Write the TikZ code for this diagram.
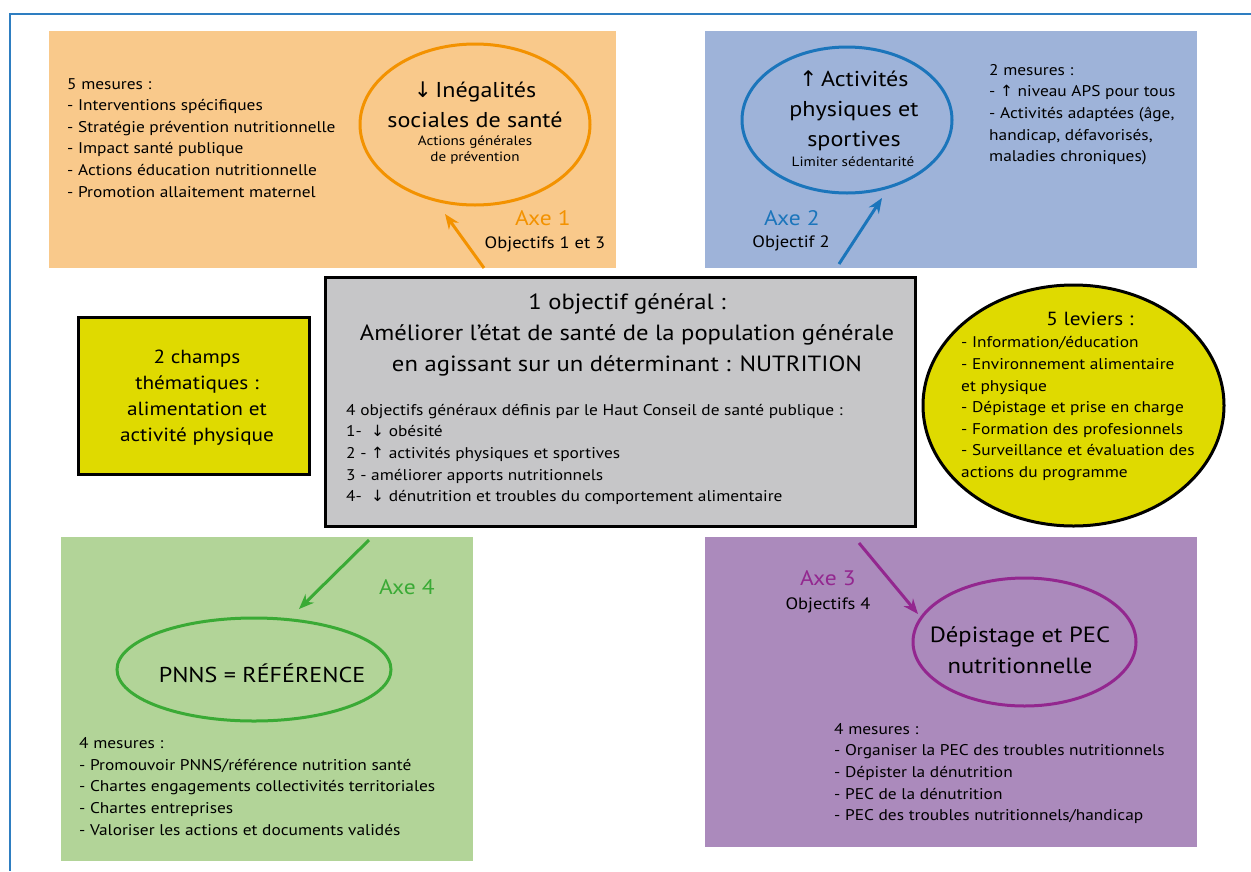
\documentclass[tikz,border=0pt]{standalone}
\usepackage{fontspec}
\setmainfont{PT Sans}[FakeStretch=1.12]
\newfontfamily\arr{DejaVu Sans}
\usetikzlibrary{arrows.meta,shapes.geometric}
\definecolor{framecol}{HTML}{2E7EC1}
\definecolor{orfill}{HTML}{F9C98B}
\definecolor{orline}{HTML}{F39200}
\definecolor{bufill}{HTML}{9EB3D9}
\definecolor{buline}{HTML}{1B75BB}
\definecolor{grfill}{HTML}{B2D498}
\definecolor{grline}{HTML}{3AAA35}
\definecolor{pufill}{HTML}{AB8ABC}
\definecolor{puline}{HTML}{93278F}
\definecolor{yefill}{HTML}{DFDA00}
\definecolor{gyfill}{HTML}{C6C6C8}
\newcommand\dnar{{\arr ↓}}
\newcommand\upar{{\arr ↑}}
\tikzset{
  panel/.style={draw=none, inner sep=0, minimum width=#1},
  blackbox/.style={draw=black, line width=3, inner sep=0},
  ell/.style={ellipse, draw=#1, line width=3, inner sep=0},
  txt/.style={inner sep=0, align=left, anchor=north west, font=\fontsize{15.5}{21.6}\selectfont},
  bigc/.style={inner sep=0, align=center, font=\fontsize{21.5}{30}\selectfont},
  smallc/.style={inner sep=0, align=center, font=\fontsize{13.5}{16}\selectfont},
  axe/.style={inner sep=0, font=\fontsize{21}{24}\selectfont, text=#1},
  obj/.style={inner sep=0, font=\fontsize{16.5}{20}\selectfont},
  arw/.style={draw=#1, line width=3, -{Stealth[length=15,width=12]}},
}
\begin{document}
\begin{tikzpicture}[x=1pt,y=-1pt]
\useasboundingbox (0,0) rectangle (1251,871);
\fill[white] (0,0) rectangle (1251,871);
\draw[framecol, line width=1.5] (1251,14) -- (10,14) -- (10,871);

% panels
\node[panel, fill=orfill, minimum width=567, minimum height=237] (p1) at (332.5,149.5) {};
\node[panel, fill=bufill, minimum width=492, minimum height=237] (p2) at (950.5,149.5) {};
\node[panel, fill=grfill, minimum width=412, minimum height=324] (p4) at (267,699) {};
\node[panel, fill=pufill, minimum width=492, minimum height=310] (p3) at (950.5,692) {};

% central boxes
\node[blackbox, fill=yefill, minimum width=231, minimum height=157] (champs) at (193.5,395.5) {};
\node[blackbox, fill=gyfill, minimum width=590, minimum height=249] (obj) at (620,401.5) {};
\node[ellipse, draw=black, line width=3, inner sep=0, fill=yefill, minimum width=301, minimum height=241] (leviers) at (1073.5,405.5) {};

% ellipses
\node[ell=orline, minimum width=230, minimum height=161] (e1) at (475,124.5) {};
\node[ell=buline, minimum width=210, minimum height=146] (e2) at (847,120) {};
\node[ell=grline, minimum width=274, minimum height=103] (e4) at (254,669.5) {};
\node[ell=puline, minimum width=223, minimum height=128] (e3) at (1024.5,642) {};

% ellipse texts
\node[bigc] (t1a) at (475,105) {\dnar\,Inégalités\\sociales de santé};
\node[smallc] (t1b) at (475,150) {Actions générales\\de prévention};
\node[bigc] (t2a) at (854,110.5) {\upar\,Activités\\physiques et\\sportives};
\node[smallc] (t2b) at (853,162) {Limiter sédentarité};
\node[bigc] (t4a) at (262,673) {PNNS = RÉFÉRENCE};
\node[bigc, font=\fontsize{22}{31}\selectfont] (t3a) at (1020,650) {Dépistage et PEC\\nutritionnelle};

% lists
\node[txt] (l1) at (67,78) {5 mesures :\\- Interventions spécifiques\\- Stratégie prévention nutritionnelle\\- Impact santé publique\\- Actions éducation nutritionnelle\\- Promotion allaitement maternel};
\node[txt] (l2) at (989,64) {2 mesures :\\- \upar\ niveau APS pour tous\\- Activités adaptées (âge,\\handicap, défavorisés,\\maladies chroniques)};
\node[txt] (l4) at (79,737.5) {4 mesures :\\- Promouvoir PNNS/référence nutrition santé\\- Chartes engagements collectivités territoriales\\- Chartes entreprises\\- Valoriser les actions et documents validés};
\node[txt] (l3) at (834,723) {4 mesures :\\- Organiser la PEC des troubles nutritionnels\\- Dépister la dénutrition\\- PEC de la dénutrition\\- PEC des troubles nutritionnels/handicap};
\node[txt] (lobj) at (346,404) {4 objectifs généraux définis par le Haut Conseil de santé publique :\\1-\ \ \dnar\ obésité\\2 - \upar\ activités physiques et sportives\\3 - améliorer apports nutritionnels\\4-\ \ \dnar\ dénutrition et troubles du comportement alimentaire};
\node[txt] (llev) at (961,336.5) {- Information/éducation\\- Environnement alimentaire\\et physique\\- Dépistage et prise en charge\\- Formation des profesionnels\\- Surveillance et évaluation des\\actions du programme};
\node[inner sep=0, font=\fontsize{19}{24}\selectfont] (levt) at (1090,319) {5 leviers :};

% central texts
\node[inner sep=0, align=center, font=\fontsize{19}{26}\selectfont] (champst) at (197,398) {2 champs\\thématiques :\\alimentation et\\activité physique};
\node[inner sep=0, align=center, font=\fontsize{22}{31}\selectfont] (objt) at (627,335) {1 objectif général :\\Améliorer l’état de santé de la population générale\\en agissant sur un déterminant : NUTRITION};

% axe labels
\node[axe=orline] (ax1) at (543,218) {Axe 1};
\node[obj] (ob1) at (545,244) {Objectifs 1 et 3};
\node[axe=buline] (ax2) at (792,218) {Axe 2};
\node[obj] (ob2) at (791,243) {Objectif 2};
\node[axe=grline] (ax4) at (407,587) {Axe 4};
\node[axe=puline] (ax3) at (828,578) {Axe 3};
\node[obj] (ob3) at (828,605) {Objectifs 4};

% arrows
\coordinate (a1s) at (484,268);
\coordinate (a1e) at (445,214);
\coordinate (a2s) at (839,264);
\coordinate (a2e) at (882,198);
\coordinate (a4s) at (369,540);
\coordinate (a4e) at (299,609);
\coordinate (a3s) at (859,543);
\coordinate (a3e) at (918,614);
\draw[arw=orline] (a1s) -- (a1e);
\draw[arw=buline] (a2s) -- (a2e);
\draw[arw=grline] (a4s) -- (a4e);
\draw[arw=puline] (a3s) -- (a3e);
\end{tikzpicture}
\end{document}
